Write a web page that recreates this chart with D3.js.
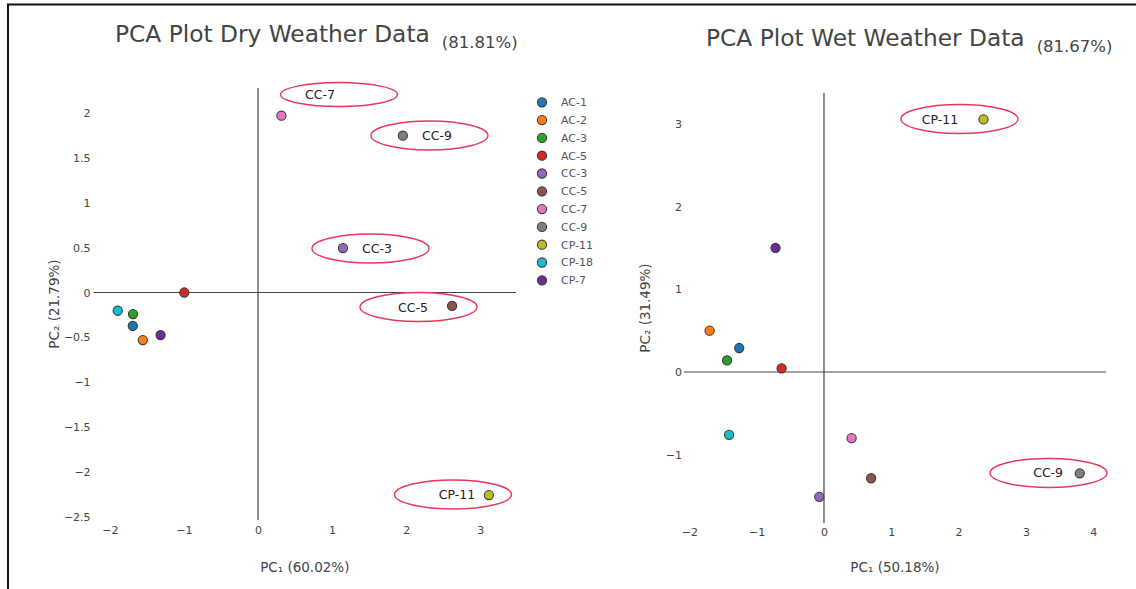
<!DOCTYPE html>
<html>
<head>
<meta charset="utf-8">
<script src="https://cdn.jsdelivr.net/npm/d3@7"></script>
<style>
  body { margin: 0; background: #fff; }
  text { font-family: "DejaVu Sans", Verdana, sans-serif; }
</style>
</head>
<body>
<div id="chart"></div>
<script>
// sample names and their colours (legend order)
const samples = ["AC-1", "AC-2", "AC-3", "AC-5", "CC-3", "CC-5", "CC-7", "CC-9", "CP-11", "CP-18", "CP-7"];
const sampleColors = ["#1f77b4", "#ff7f0e", "#2ca02c", "#d62728", "#9467bd", "#8c564b",
                      "#e377c2", "#7f7f7f", "#bcbd22", "#17becf", "#6b2d90"];

// dry weather scores
const dryPC1 = [-1.69, -1.555, -1.687, -0.995, 1.147, 2.62, 0.316, 1.955, 3.116, -1.893, -1.315];
const dryPC2 = [-0.373, -0.53, -0.24, 0.0, 0.496, -0.15, 1.971, 1.748, -2.258, -0.203, -0.474];

// wet weather scores
const wetPC1 = [-1.26, -1.70, -1.44, -0.63, -0.07, 0.70, 0.41, 3.80, 2.37, -1.41, -0.72];
const wetPC2 = [0.29, 0.50, 0.14, 0.045, -1.51, -1.285, -0.80, -1.225, 3.055, -0.76, 1.50];

// tick values
const dryXTicks = [-2, -1, 0, 1, 2, 3];
const dryYTicks = [-2.5, -2, -1.5, -1, -0.5, 0, 0.5, 1, 1.5, 2];
const wetXTicks = [-2, -1, 0, 1, 2, 3, 4];
const wetYTicks = [-1, 0, 1, 2, 3];

// highlighted samples (ellipse centre and label centre in data units)
const dryCallouts = [
  {label: "CC-7", cx: 1.093, cy: 2.207, tx: 0.837},
  {label: "CC-9", cx: 2.314, cy: 1.750, tx: 2.415},
  {label: "CC-3", cx: 1.518, cy: 0.491, tx: 1.606},
  {label: "CC-5", cx: 2.166, cy: -0.162, tx: 2.092},
  {label: "CP-11", cx: 2.632, cy: -2.252, tx: 2.686}
];
const wetCallouts = [
  {label: "CP-11", cx: 2.013, cy: 3.059, tx: 1.724},
  {label: "CC-9", cx: 3.336, cy: -1.221, tx: 3.33}
];

const W = 1136, H = 589;

const svg = d3.select("#chart").append("svg")
  .attr("width", W)
  .attr("height", H);

svg.append("rect").attr("width", W).attr("height", H).attr("fill", "#fff");

// frame (top and left edge)
svg.append("path")
  .attr("d", `M8,${H} V4.5 H${W}`)
  .attr("fill", "none")
  .attr("stroke", "#111")
  .attr("stroke-width", 2);

const drawPanel = (cfg) => {
  const x = d3.scaleLinear().domain(cfg.xDomain).range([cfg.left, cfg.right]);
  const y = d3.scaleLinear().domain(cfg.yDomain).range([cfg.bottom, cfg.top]);
  const g = svg.append("g");

  // title
  const title = g.append("text")
    .attr("x", cfg.titleX)
    .attr("y", cfg.titleY)
    .attr("font-size", 23.3)
    .attr("fill", "#444")
    .text(cfg.title);
  title.append("tspan")
    .attr("dx", 12)
    .attr("dy", 6)
    .attr("font-size", 16.5)
    .text(cfg.titlePct);

  // zero lines
  g.append("line")
    .attr("x1", cfg.left).attr("x2", cfg.right)
    .attr("y1", y(0)).attr("y2", y(0))
    .attr("stroke", "#444").attr("stroke-width", 1.2);
  g.append("line")
    .attr("x1", x(0)).attr("x2", x(0))
    .attr("y1", cfg.top).attr("y2", cfg.bottom)
    .attr("stroke", "#444").attr("stroke-width", 1.2);

  const fmt = d => String(d).replace("-", "\u2212");

  // axes
  const xAxis = g.append("g")
    .attr("transform", `translate(0,${cfg.bottom})`)
    .call(d3.axisBottom(x).tickValues(cfg.xTicks).tickSize(0).tickPadding(cfg.xPad).tickFormat(fmt));
  const yAxis = g.append("g")
    .attr("transform", `translate(${cfg.left},0)`)
    .call(d3.axisLeft(y).tickValues(cfg.yTicks).tickSize(0).tickPadding(cfg.yPad).tickFormat(fmt));
  [xAxis, yAxis].forEach(a => {
    a.select(".domain").remove();
    a.selectAll("text")
      .attr("font-family", "DejaVu Sans, Verdana, sans-serif")
      .attr("font-size", 11)
      .attr("fill", "#444");
  });

  // axis titles
  g.append("text")
    .attr("x", (cfg.left + cfg.right) / 2)
    .attr("y", 572)
    .attr("text-anchor", "middle")
    .attr("font-size", 13.5)
    .attr("fill", "#444")
    .text(cfg.xTitle);
  g.append("text")
    .attr("transform", `translate(${cfg.yTitleX},${(cfg.top + cfg.bottom) / 2}) rotate(-90)`)
    .attr("text-anchor", "middle")
    .attr("dy", "0.35em")
    .attr("font-size", 13.5)
    .attr("fill", "#444")
    .text(cfg.yTitle);

  // callouts
  const call = g.selectAll(".callout")
    .data(cfg.callouts)
    .enter().append("g");
  call.append("ellipse")
    .attr("cx", d => x(d.cx))
    .attr("cy", d => y(d.cy))
    .attr("rx", 58.5)
    .attr("ry", d => d.label === "CC-7" ? 12 : 14.5)
    .attr("fill", "none")
    .attr("stroke", "#e8365d")
    .attr("stroke-width", 1.4);
  call.append("text")
    .attr("x", d => x(d.tx))
    .attr("y", d => y(d.cy))
    .attr("dy", "0.36em")
    .attr("text-anchor", "middle")
    .attr("font-size", 12.5)
    .attr("fill", "#222")
    .text(d => d.label);

  // points
  g.selectAll(".pt")
    .data(samples.map((s, i) => ({s, i, px: cfg.pc1[i], py: cfg.pc2[i]})))
    .enter().append("circle")
    .attr("cx", d => x(d.px))
    .attr("cy", d => y(d.py))
    .attr("r", 4.6)
    .attr("fill", d => sampleColors[d.i])
    .attr("stroke", "#3a3a3a")
    .attr("stroke-width", 1.1);
};

drawPanel({
  title: "PCA Plot Dry Weather Data", titlePct: "(81.81%)", titleX: 115, titleY: 41.5,
  left: 93.6, right: 516, top: 88, bottom: 520,
  xDomain: [-2.219, 3.482], yDomain: [-2.536, 2.28],
  xTicks: dryXTicks, yTicks: dryYTicks, xPad: 6, yPad: 3,
  xTitle: "PC\u2081 (60.02%)", yTitle: "PC\u2082 (21.79%)", yTitleX: 54,
  pc1: dryPC1, pc2: dryPC2, callouts: dryCallouts
});

drawPanel({
  title: "PCA Plot Wet Weather Data", titlePct: "(81.67%)", titleX: 706, titleY: 45.5,
  left: 684, right: 1106, top: 93, bottom: 523,
  xDomain: [-2.08, 4.19], yDomain: [-1.826, 3.374],
  xTicks: wetXTicks, yTicks: wetYTicks, xPad: 5, yPad: 2,
  xTitle: "PC\u2081 (50.18%)", yTitle: "PC\u2082 (31.49%)", yTitleX: 645,
  pc1: wetPC1, pc2: wetPC2, callouts: wetCallouts
});

// legend for the dry weather panel
const legend = svg.append("g")
  .selectAll("g")
  .data(samples)
  .enter().append("g")
  .attr("transform", (d, i) => `translate(542,${102.3 + i * 17.8})`);
legend.append("circle")
  .attr("r", 4.6)
  .attr("fill", (d, i) => sampleColors[i])
  .attr("stroke", "#3a3a3a")
  .attr("stroke-width", 1.1);
legend.append("text")
  .attr("x", 19)
  .attr("dy", "0.36em")
  .attr("font-size", 11)
  .attr("fill", "#555")
  .text(d => d);
</script>
</body>
</html>
